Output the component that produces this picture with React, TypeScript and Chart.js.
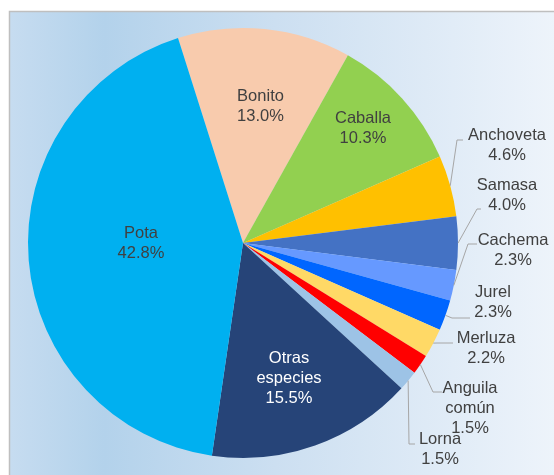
import React, { useEffect, useRef } from "react";
import { Chart, registerables } from "chart.js";

Chart.register(...registerables);

// ---- data ----
const species = [
  "Bonito",
  "Caballa",
  "Anchoveta",
  "Samasa",
  "Cachema",
  "Jurel",
  "Merluza",
  "Anguila común",
  "Lorna",
  "Otras especies",
  "Pota",
];
const shares = [13.0, 10.3, 4.6, 4.0, 2.3, 2.3, 2.2, 1.5, 1.5, 15.5, 42.8];
const labelLines = [
  ["Bonito"],
  ["Caballa"],
  ["Anchoveta"],
  ["Samasa"],
  ["Cachema"],
  ["Jurel"],
  ["Merluza"],
  ["Anguila", "común"],
  ["Lorna"],
  ["Otras", "especies"],
  ["Pota"],
];

// ---- styles / layout ----
const sliceColors = [
  "#F8CBAD",
  "#92D050",
  "#FFC000",
  "#4472C4",
  "#6699FF",
  "#0066FF",
  "#FFD966",
  "#FF0000",
  "#9DC3E6",
  "#264478",
  "#00B0F0",
];
const textColors = [
  "#404040", "#404040", "#404040", "#404040", "#404040", "#404040",
  "#404040", "#404040", "#404040", "#FFFFFF", "#404040",
];
// label centre offsets from pie centre (px)
const labelOffsets: [number, number][] = [
  [17.5, -137],
  [120, -115],
  [264, -98],
  [264, -48],
  [270, 7],
  [250, 59],
  [243, 105.5],
  [227, 165],
  [197, 206.5],
  [46, 135],
  [-102, 0.5],
];
// leader elbow points (offsets from centre); null = no leader
const leaders: ([number, number][] | null)[] = [
  null,
  null,
  [[214, -103], [220, -103]],
  [[234, -34], [238, -34]],
  [[225, 1], [234, 1]],
  [[209, 75], [227, 75]],
  [[194, 100], [210, 100]],
  [[190, 149], [199, 149]],
  [[166, 201], [172, 201]],
  null,
  null,
];

const FONT = '16.5px "Liberation Sans", Arial, sans-serif';
const LINE_H = 20;

const bgPlugin = {
  id: "bgPlugin",
  beforeDraw(chart: any) {
    const ctx = chart.ctx;
    const w = chart.width;
    const h = chart.height;
    ctx.save();
    ctx.fillStyle = "#FFFFFF";
    ctx.fillRect(0, 0, w, h);
    const g = ctx.createLinearGradient(10, 0, 600, 0);
    g.addColorStop(0, "#C6DCF0");
    g.addColorStop(0.16, "#B3D2EB");
    g.addColorStop(0.45, "#CCDFF1");
    g.addColorStop(0.75, "#E1ECF7");
    g.addColorStop(1, "#F3F7FC");
    ctx.fillStyle = g;
    ctx.fillRect(10, 12, w - 10, h - 12);
    ctx.strokeStyle = "#BFBFBF";
    ctx.lineWidth = 1.5;
    ctx.beginPath();
    ctx.moveTo(9.5, h + 2);
    ctx.lineTo(9.5, 11.5);
    ctx.lineTo(w + 2, 11.5);
    ctx.stroke();
    ctx.restore();
  },
};

const labelPlugin = {
  id: "labelPlugin",
  afterDraw(chart: any) {
    const ctx = chart.ctx;
    const meta = chart.getDatasetMeta(0);
    ctx.save();
    ctx.font = FONT;
    ctx.textAlign = "center";
    ctx.textBaseline = "middle";
    meta.data.forEach((arc: any, i: number) => {
      const p = arc.getProps(["x", "y", "startAngle", "endAngle", "outerRadius"], true);
      const cx = p.x;
      const cy = p.y;
      const mid = (p.startAngle + p.endAngle) / 2;
      const lead = leaders[i];
      if (lead) {
        ctx.strokeStyle = "#A6A6A6";
        ctx.lineWidth = 1;
        ctx.beginPath();
        ctx.moveTo(cx + Math.cos(mid) * p.outerRadius, cy + Math.sin(mid) * p.outerRadius);
        lead.forEach(([dx, dy]) => ctx.lineTo(cx + dx, cy + dy));
        ctx.stroke();
      }
      const lines = [...labelLines[i], shares[i].toFixed(1) + "%"];
      const [ox, oy] = labelOffsets[i];
      const top = cy + oy - ((lines.length - 1) * LINE_H) / 2;
      ctx.fillStyle = textColors[i];
      lines.forEach((t, k) => ctx.fillText(t, cx + ox, top + k * LINE_H));
    });
    ctx.restore();
  },
};

export default function App() {
  const ref = useRef<HTMLCanvasElement | null>(null);
  useEffect(() => {
    if (!ref.current) return;
    const chart = new Chart(ref.current, {
      type: "pie",
      data: {
        labels: species,
        datasets: [
          {
            data: shares,
            backgroundColor: sliceColors,
            borderWidth: 0,
          },
        ],
      },
      options: {
        animation: false,
        responsive: false,
        rotation: -17.6,
        layout: { padding: { left: 28, right: 96, top: 28, bottom: 17 } },
        plugins: {
          legend: { display: false },
          tooltip: { enabled: false },
        },
      },
      plugins: [bgPlugin, labelPlugin],
    });
    return () => chart.destroy();
  }, []);
  return (
    <div style={{ position: "absolute", left: 0, top: 0, width: 554, height: 475 }}>
      <canvas ref={ref} width={554} height={475} style={{ display: "block" }} />
    </div>
  );
}
